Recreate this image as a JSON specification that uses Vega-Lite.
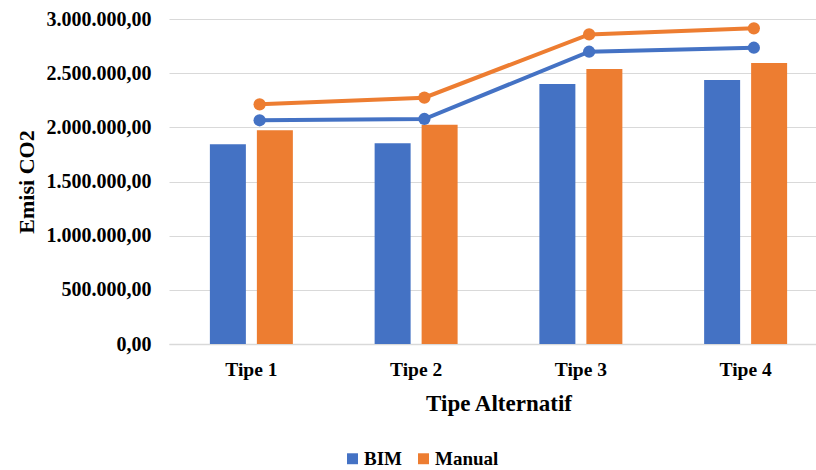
{
  "$schema": "https://vega.github.io/schema/vega-lite/v6.json",
  "autosize": "none",
  "width": 647,
  "height": 325,
  "padding": {"left": 169, "top": 19, "right": 0, "bottom": 126},
  "config": {
    "locale": {"number": {"decimal": ",", "thousands": ".", "grouping": [3], "currency": ["", ""]}},
    "view": {"stroke": null},
    "font": "Liberation Serif",
    "axis": {"labelFont": "Liberation Serif", "titleFont": "Liberation Serif", "labelFontWeight": "bold", "titleFontWeight": "bold", "labelColor": "#000000", "titleColor": "#000000"}
  },
  "data": {
    "values": [
      {"tipe": "Tipe 1", "metode": "BIM", "bar": 1843000, "line": 2065000},
      {"tipe": "Tipe 1", "metode": "Manual", "bar": 1972000, "line": 2212000},
      {"tipe": "Tipe 2", "metode": "BIM", "bar": 1852000, "line": 2077000},
      {"tipe": "Tipe 2", "metode": "Manual", "bar": 2025000, "line": 2274000},
      {"tipe": "Tipe 3", "metode": "BIM", "bar": 2400000, "line": 2698000},
      {"tipe": "Tipe 3", "metode": "Manual", "bar": 2538000, "line": 2858000},
      {"tipe": "Tipe 4", "metode": "BIM", "bar": 2437000, "line": 2735000},
      {"tipe": "Tipe 4", "metode": "Manual", "bar": 2594000, "line": 2914000}
    ]
  },
  "layer": [
    {
      "mark": {"type": "bar"},
      "encoding": {
        "x": {
          "field": "tipe", "type": "nominal",
          "scale": {"range": [0, 659], "paddingInner": 0, "paddingOuter": 0},
          "axis": {"title": "Tipe Alternatif", "labelAngle": 0, "labelFontSize": 19.5, "titleFontSize": 23, "ticks": false, "labelPadding": 16, "titlePadding": 14, "domainColor": "#d9d9d9", "domainWidth": 1.5, "grid": false}
        },
        "xOffset": {"field": "metode", "type": "nominal", "scale": {"paddingInner": 0.234, "paddingOuter": 0.87}},
        "y": {
          "field": "bar", "type": "quantitative",
          "scale": {"domain": [0, 3000000]},
          "axis": {"title": "Emisi CO2", "format": ",.2f", "values": [0, 500000, 1000000, 1500000, 2000000, 2500000, 3000000], "labelOverlap": false, "labelFontSize": 20, "titleFontSize": 22, "ticks": false, "domain": false, "labelPadding": 18, "titlePadding": 8, "gridColor": "#d9d9d9", "gridWidth": 1.2}
        },
        "color": {
          "field": "metode", "type": "nominal",
          "scale": {"domain": ["BIM", "Manual"], "range": ["#4472C4", "#ED7D31"]},
          "legend": {"orient": "none", "legendX": 174, "legendY": 430, "direction": "horizontal", "title": null, "symbolType": "square", "symbolSize": 120, "symbolStrokeWidth": 0, "labelFontSize": 19, "labelFont": "Liberation Serif", "labelFontWeight": "bold", "labelColor": "#000000", "columnPadding": 12, "labelOffset": 2}
        }
      }
    },
    {
      "mark": {"type": "line", "strokeWidth": 4, "point": {"size": 150, "filled": true}},
      "encoding": {
        "x": {"field": "tipe", "type": "nominal", "bandPosition": 0.55},
        "y": {"field": "line", "type": "quantitative"},
        "color": {"field": "metode", "type": "nominal", "legend": null}
      }
    }
  ]
}
